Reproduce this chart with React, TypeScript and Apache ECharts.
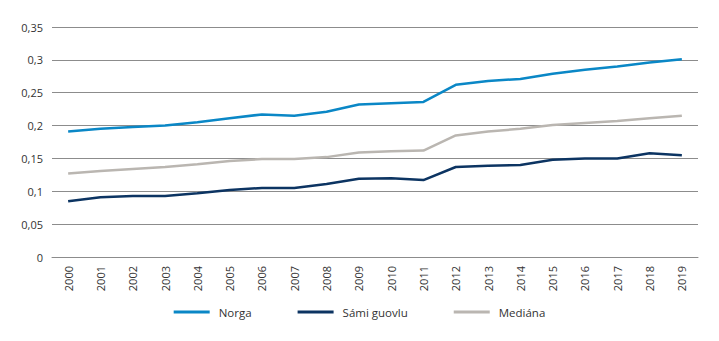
import React, { useEffect, useRef } from "react";
import * as echarts from "echarts";

const years = ["2000","2001","2002","2003","2004","2005","2006","2007","2008","2009","2010","2011","2012","2013","2014","2015","2016","2017","2018","2019"];
const norga = [0.191,0.195,0.198,0.2,0.205,0.211,0.217,0.215,0.221,0.232,0.234,0.236,0.262,0.268,0.271,0.279,0.285,0.29,0.296,0.301];
const samiGuovlu = [0.085,0.091,0.093,0.093,0.097,0.102,0.105,0.105,0.111,0.119,0.12,0.117,0.137,0.139,0.14,0.148,0.15,0.15,0.158,0.155];
const mediana = [0.127,0.131,0.134,0.137,0.141,0.146,0.149,0.149,0.152,0.159,0.161,0.162,0.185,0.191,0.195,0.201,0.204,0.207,0.211,0.215];

const FONT = "'Open Sans', sans-serif";

export default function App() {
  const ref = useRef<HTMLDivElement>(null);
  useEffect(() => {
    if (!ref.current) return;
    const chart = echarts.init(ref.current, undefined, { renderer: "svg" });
    const mk = (name: string, data: number[], color: string) => ({
      name,
      type: "line",
      data,
      symbol: "none",
      lineStyle: { color, width: 2.5 },
      itemStyle: { color },
    });
    chart.setOption({
      animation: false,
      textStyle: { fontFamily: FONT },
      grid: { left: 52, right: 21, top: 27, bottom: 84 },
      legend: {
        bottom: 18,
        left: "center",
        icon: "rect",
        itemWidth: 36,
        itemHeight: 3,
        itemGap: 46,
        textStyle: { fontFamily: FONT, fontSize: 11.5, color: "#333", padding: [0, 0, 0, 4] },
        data: ["Norga", "Sámi guovlu", "Mediána"],
      },
      xAxis: {
        type: "category",
        data: years,
        boundaryGap: true,
        axisLine: { show: true, lineStyle: { color: "#8c8c8c", width: 1 } },
        axisTick: { show: false },
        axisLabel: { rotate: 90, fontSize: 11, color: "#333", fontFamily: FONT, margin: 9 },
      },
      yAxis: {
        type: "value",
        min: 0,
        max: 0.35,
        interval: 0.05,
        axisLine: { show: false },
        axisTick: { show: false },
        splitLine: { lineStyle: { color: "#8c8c8c", width: 1 } },
        axisLabel: {
          fontSize: 11,
          color: "#333",
          fontFamily: FONT,
          margin: 9,
          formatter: (v: number) => String(Math.round(v * 100) / 100).replace(".", ","),
        },
      },
      series: [
        mk("Norga", norga, "#0a87c6"),
        mk("Sámi guovlu", samiGuovlu, "#0c3462"),
        mk("Mediána", mediana, "#bab6b1"),
      ],
    });
    return () => chart.dispose();
  }, []);
  return <div ref={ref} style={{ width: 719, height: 341, margin: -8 }} />;
}
